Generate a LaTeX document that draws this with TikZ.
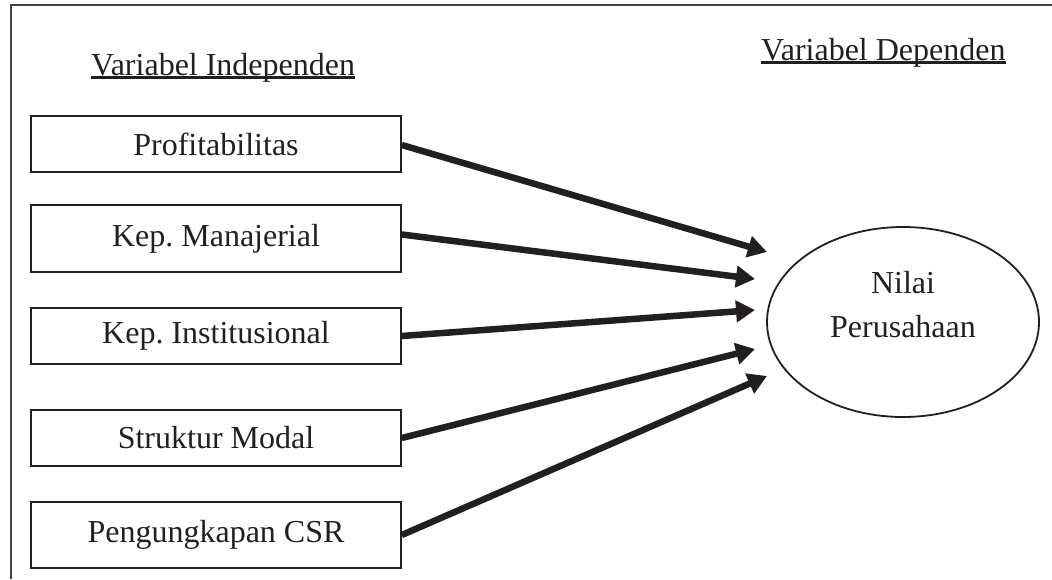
\documentclass[tikz,border=0pt]{standalone}
\usepackage{fontspec}
\setmainfont{Liberation Serif}
\usetikzlibrary{arrows.meta,shapes.geometric}
\definecolor{ink}{HTML}{231F20}
\tikzset{
  vbox/.style={draw=ink,line width=1.6pt,minimum width=370pt,inner sep=0pt,text=ink,
    font=\fontsize{32}{38}\selectfont},
  title/.style={inner sep=0pt,anchor=base west,text=ink,font=\fontsize{32}{38}\selectfont},
  ul/.style={draw=ink,line width=2.6pt},
  frame/.style={draw=ink!85,line width=2pt},
  arr/.style={draw=ink,line width=6.5pt,-{Triangle[length=19pt,width=21pt]}},
}
\begin{document}
\begin{tikzpicture}[x=1pt,y=-1pt]
\useasboundingbox (0,0) rectangle (1052,579);
\draw[frame] (11,579) -- (11,5) -- (1052,5);
% titles
\node[title] (ind) at (91,75) {Variabel Independen};
\node[title] (dep) at (761,60) {Variabel Dependen};
\draw[ul] ([yshift=-2.5pt]ind.base west) -- ([yshift=-2.5pt]ind.base east);
\draw[ul] ([yshift=-2.5pt]dep.base west) -- ([yshift=-2.5pt]dep.base east);
% boxes
\node[vbox,minimum height=56pt] (b1) at (216,144) {Profitabilitas};
\node[vbox,minimum height=67pt] (b2) at (216,238.5) {Kep.\ Manajerial};
\node[vbox,minimum height=56pt] (b3) at (216,336) {Kep.\ Institusional};
\node[vbox,minimum height=56pt] (b4) at (216,438) {Struktur Modal};
\node[vbox,minimum height=66pt] (b5) at (216,535) {Pengungkapan CSR};
% ellipse
\node[ellipse,draw=ink,line width=1.8pt,minimum width=272pt,minimum height=190pt,inner sep=0pt,
  label={[yshift=17pt,align=center,text=ink,font=\fontsize{32}{44}\selectfont]center:Nilai\\Perusahaan}]
  (nv) at (903,322) {};
% arrow tips
\coordinate (t1) at (767,252);
\coordinate (t2) at (755,279);
\coordinate (t3) at (755,310);
\coordinate (t4) at (755,349);
\coordinate (t5) at (767,376);
\draw[arr] ([yshift=-1pt]b1.east) -- (t1);
\draw[arr] ([yshift=4pt]b2.east) -- (t2);
\draw[arr] (b3.east) -- (t3);
\draw[arr] (b4.east) -- (t4);
\draw[arr] (b5.east) -- (t5);
\end{tikzpicture}
\end{document}
